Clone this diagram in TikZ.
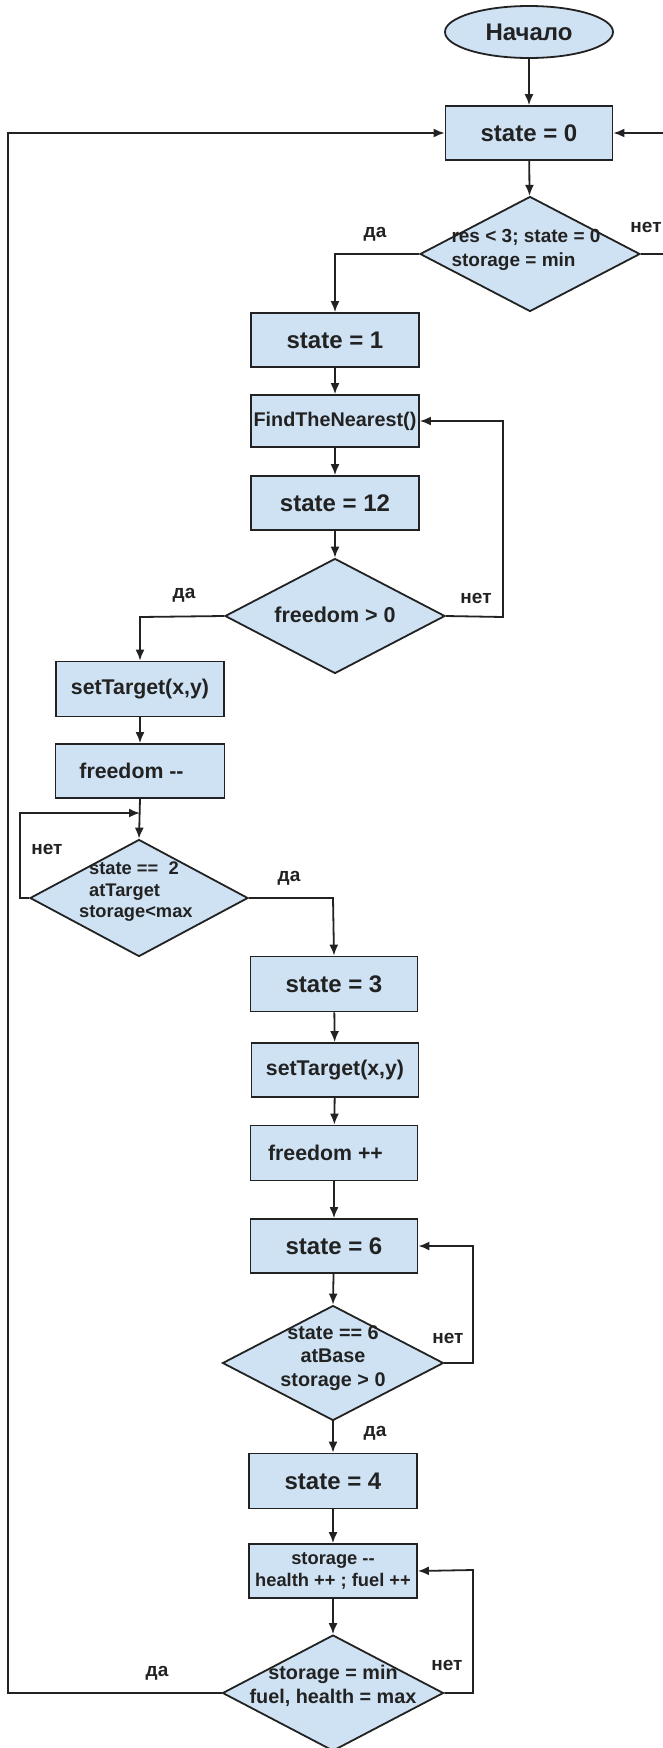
\documentclass[tikz,border=0pt]{standalone}
\usepackage{fontspec}
\setmainfont{Liberation Sans}
\usetikzlibrary{shapes.geometric,arrows.meta}
\definecolor{boxfill}{HTML}{CFE2F3}
\definecolor{ink}{HTML}{222222}
\begin{document}
\begin{tikzpicture}[x=1pt,y=-1pt,
  every node/.style={text=ink},
  procbox/.style={rectangle, draw=ink, fill=boxfill, line width=1.8pt, inner sep=0pt,
    minimum width=167pt, minimum height=54pt},
  bigtxt/.style={font=\fontsize{24}{28}\selectfont\bfseries},
  midtxt/.style={font=\fontsize{21.3}{25}\selectfont\bfseries},
  dia/.style={diamond, draw=ink, fill=boxfill, line width=1.8pt, inner sep=0pt,
    minimum width=220pt, minimum height=115pt},
  diatext/.style={inner sep=0pt, font=\fontsize{19}{24}\selectfont\bfseries},
  lbl/.style={inner sep=0pt, font=\fontsize{19}{22}\selectfont\bfseries},
  conn/.style={draw=ink, line width=1.8pt, -{Latex[length=11pt,width=9pt]}},
  wire/.style={draw=ink, line width=1.8pt}
]
\useasboundingbox[fill=white] (0,0) rectangle (663,1748);

% nodes
\node[ellipse, draw=ink, fill=boxfill, line width=1.8pt, inner sep=0pt,
      minimum width=168pt, minimum height=52pt, bigtxt] (start) at (529,32) {Начало};
\node[procbox, bigtxt] (s0) at (529,133) {state = 0};
\node[dia] (d1) at (530,254) {};
\node[diatext, align=left] (d1t) at (526,250) {res < 3; state = 0\\storage = min};

\node[procbox, bigtxt, minimum width=168pt] (s1) at (335,340) {state = 1};
\node[procbox, minimum width=168pt, minimum height=52pt,
      font=\fontsize{19.8}{24}\selectfont\bfseries] (find) at (335,421) {FindTheNearest()};
\node[procbox, bigtxt, minimum width=168pt] (s12) at (335,503) {state = 12};
\node[dia] (d2) at (335,616) {};
\node[diatext, font=\fontsize{21.5}{25}\selectfont\bfseries] (d2t) at (335,615) {freedom > 0};

\node[procbox, midtxt, minimum width=168pt, minimum height=55pt] (st1) at (140,689) {setTarget(x,y)};
\node[procbox, midtxt, minimum width=169pt] (fm) at (140,771) {freedom -{}-\hspace*{17pt}};
\node[dia, minimum width=218pt, minimum height=117pt] (d3) at (139,898) {};
\node[diatext, align=left, anchor=north west,
      font=\fontsize{18.3}{21.5}\selectfont\bfseries] (d3t) at (89,862)
      {state ==\ \ 2\\atTarget\\\hspace*{-10pt}storage<max};

\node[procbox, bigtxt, minimum height=55pt] (s3) at (334,984) {state = 3};
\node[procbox, midtxt] (st2) at (335,1070) {setTarget(x,y)};
\node[procbox, midtxt, minimum height=55pt] (fp) at (334,1153) {freedom ++\hspace*{17pt}};
\node[procbox, bigtxt] (s6) at (334,1246) {state = 6};
\node[dia, minimum width=221pt] (d4) at (333,1363) {};
\node[diatext, align=center, font=\fontsize{19.8}{23.5}\selectfont\bfseries] (d4t) at (333,1358)
      {state == 6\\atBase\\storage > 0};

\node[procbox, bigtxt, minimum width=168pt, minimum height=55pt] (s4) at (333,1481) {state = 4};
\node[procbox, minimum width=168pt, align=center,
      font=\fontsize{18.3}{22}\selectfont\bfseries] (stor) at (333,1571)
      {storage -{}-\\health ++ ; fuel ++};
\node[dia, minimum width=221pt, minimum height=116pt] (d5) at (333,1693) {};
\node[diatext, align=center, font=\fontsize{19.8}{24.5}\selectfont\bfseries] (d5t) at (333,1686)
      {storage = min\\fuel, health = max};

% helper coordinates
\coordinate (r1) at (666,254);
\coordinate (r1top) at (666,133);
\coordinate (c1) at (335,254);
\coordinate (c2r) at (503,617);
\coordinate (c2rt) at (503,421);
\coordinate (c2l) at (140,617);
\coordinate (c3l) at (20,898);
\coordinate (c3lt) at (20,813);
\coordinate (j3) at (140,813);
\coordinate (c3r) at (333,898);
\coordinate (c4r) at (473,1363);
\coordinate (c4rt) at (473,1246);
\coordinate (c5r) at (473,1693);
\coordinate (c5rt) at (473,1570);
\coordinate (c5l) at (8,1693);
\coordinate (c5lt) at (8,133);

% connectors
\draw[conn] (start) -- (s0);
\draw[conn] (s0) -- (d1);
\draw[conn] (d1.west) -- (c1) -- (s1.north);
\draw[conn] (d1.east) -- (r1) -- (r1top) -- (s0.east);
\draw[conn] (s1) -- (find);
\draw[conn] (find) -- (s12);
\draw[conn] (s12) -- (d2.north);
\draw[conn] (d2.east) -- (c2r) -- (c2rt) -- (find.east);
\draw[conn] (d2.west) -- (c2l) -- (st1.north);
\draw[conn] (st1) -- (fm);
\draw[conn] (fm.south) -- (d3.north);
\draw[conn] (d3.west) -- (c3l) -- (c3lt) -- (j3);
\draw[conn] (d3.east) -- (c3r) -- (s3.north);
\draw[conn] (s3) -- (st2);
\draw[conn] (st2) -- (fp);
\draw[conn] (fp) -- (s6);
\draw[conn] (s6) -- (d4.north);
\draw[conn] (d4.east) -- (c4r) -- (c4rt) -- (s6.east);
\draw[conn] (d4.south) -- (s4.north);
\draw[conn] (s4) -- (stor);
\draw[conn] (stor.south) -- (d5.north);
\draw[conn] (d5.east) -- (c5r) -- (c5rt) -- (stor.east);
\draw[conn] (d5.west) -- (c5l) -- (c5lt) -- (s0.west);

% labels
\node[lbl] (l1) at (375,234) {да};
\node[lbl] (l2) at (646,227) {нет};
\node[lbl] (l3) at (476,598) {нет};
\node[lbl] (l4) at (184,595) {да};
\node[lbl] (l5) at (47,849) {нет};
\node[lbl] (l6) at (289,878) {да};
\node[lbl] (l7) at (448,1338) {нет};
\node[lbl] (l8) at (375,1433) {да};
\node[lbl] (l9) at (447,1665) {нет};
\node[lbl] (l10) at (157,1673) {да};
\end{tikzpicture}
\end{document}
